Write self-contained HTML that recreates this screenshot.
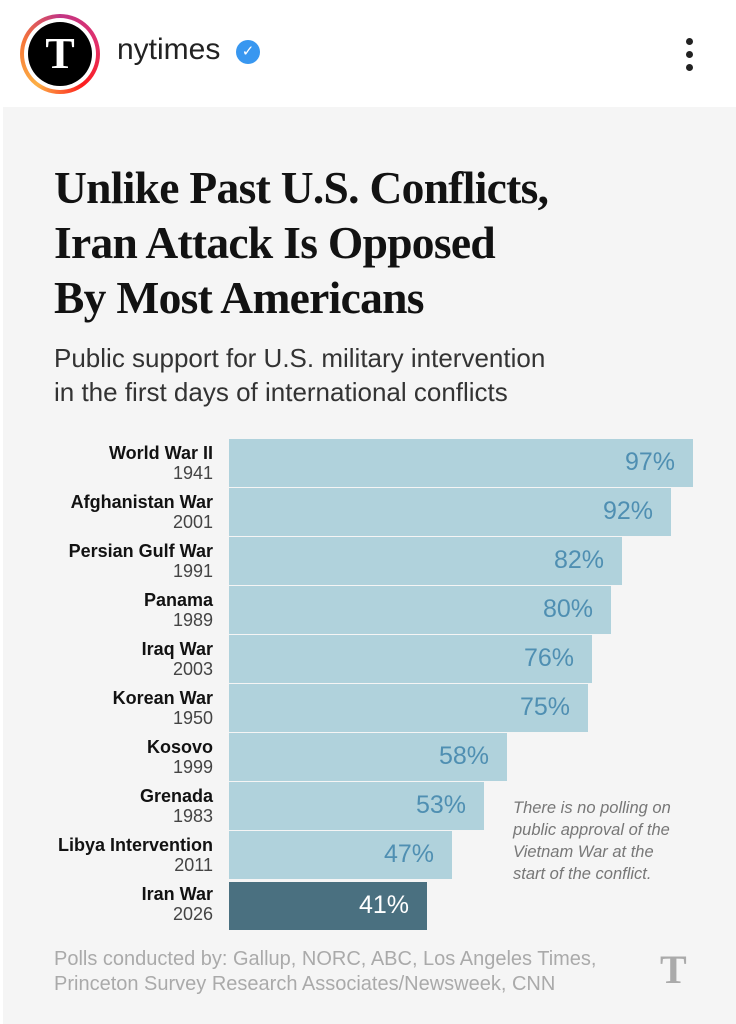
<!DOCTYPE html>
<html><head><meta charset="utf-8"><style>
body{margin:0;width:736px;height:1024px;background:#fff;position:relative;overflow:hidden;font-family:"Liberation Sans",sans-serif}
.abs{position:absolute}
.panel{left:3px;top:107px;width:733px;height:917px;background:#f5f5f5}
.title{left:54px;top:160px;font-family:"Liberation Serif",serif;font-weight:bold;font-size:45.5px;line-height:55px;color:#121212;letter-spacing:-0.7px}
.sub{left:54px;top:341px;font-size:26px;line-height:34px;color:#333}
.lab{right:523px;text-align:right;font-size:18px;line-height:20px;color:#121212}
.lab b{display:block;font-weight:bold}
.lab span{color:#444;font-size:18px}
.bar{left:229px;height:48px;background:#b0d2dc}
.bar i{position:absolute;right:18px;top:9px;font-style:normal;font-size:25px;color:#4f8fb2}
.note{left:513px;top:797px;font-size:16.5px;line-height:22px;color:#777;font-style:italic}
.foot{left:54px;top:947px;font-size:20px;line-height:25px;color:#aaa}
</style></head><body>
<div class="abs" style="left:20px;top:14px;width:80px;height:80px;border-radius:50%;background:conic-gradient(#c13584,#e1306c,#fd1d1d,#fcaf45,#f77737,#c13584)"></div>
<div class="abs" style="left:24px;top:18px;width:72px;height:72px;border-radius:50%;background:#fff"></div>
<div class="abs" style="left:28px;top:22px;width:64px;height:64px;border-radius:50%;background:#000;color:#fff;font-family:'Liberation Serif',serif;font-weight:bold;font-size:44px;line-height:64px;text-align:center">T</div>
<div class="abs" style="left:117px;top:33px;font-size:30px;color:#222">nytimes</div>
<div class="abs" style="left:236px;top:40px;width:24px;height:24px;border-radius:50%;background:#3897f0;color:#fff;font-size:15px;line-height:24px;text-align:center">✓</div>
<div class="abs" style="left:686px;top:38px;width:7px;height:7px;border-radius:50%;background:#222;box-shadow:0 13px 0 #222,0 26px 0 #222"></div>
<div class="abs panel"></div>
<div class="abs title">Unlike Past U.S. Conflicts,<br>Iran Attack Is Opposed<br>By Most Americans</div>
<div class="abs sub">Public support for U.S. military intervention<br>in the first days of international conflicts</div>

<div class="abs lab" style="top:443px"><b>World War II</b><span>1941</span></div>
<div class="abs bar" style="top:439px;width:464px"><i>97%</i></div>
<div class="abs lab" style="top:492px"><b>Afghanistan War</b><span>2001</span></div>
<div class="abs bar" style="top:488px;width:442px"><i>92%</i></div>
<div class="abs lab" style="top:541px"><b>Persian Gulf War</b><span>1991</span></div>
<div class="abs bar" style="top:537px;width:393px"><i>82%</i></div>
<div class="abs lab" style="top:590px"><b>Panama</b><span>1989</span></div>
<div class="abs bar" style="top:586px;width:382px"><i>80%</i></div>
<div class="abs lab" style="top:639px"><b>Iraq War</b><span>2003</span></div>
<div class="abs bar" style="top:635px;width:363px"><i>76%</i></div>
<div class="abs lab" style="top:688px"><b>Korean War</b><span>1950</span></div>
<div class="abs bar" style="top:684px;width:359px"><i>75%</i></div>
<div class="abs lab" style="top:737px"><b>Kosovo</b><span>1999</span></div>
<div class="abs bar" style="top:733px;width:278px"><i>58%</i></div>
<div class="abs lab" style="top:786px"><b>Grenada</b><span>1983</span></div>
<div class="abs bar" style="top:782px;width:255px"><i>53%</i></div>
<div class="abs lab" style="top:835px"><b>Libya Intervention</b><span>2011</span></div>
<div class="abs bar" style="top:831px;width:223px"><i>47%</i></div>
<div class="abs lab" style="top:884px"><b>Iran War</b><span>2026</span></div>
<div class="abs bar" style="top:882px;width:198px;background:#4a7080"><i style="color:#fff">41%</i></div>

<div class="abs note">There is no polling on<br>public approval of the<br>Vietnam War at the<br>start of the conflict.</div>
<div class="abs foot">Polls conducted by: Gallup, NORC, ABC, Los Angeles Times,<br>Princeton Survey Research Associates/Newsweek, CNN</div>
<div class="abs" style="left:660px;top:946px;font-family:'Liberation Serif',serif;font-weight:bold;font-size:40px;color:#aaa">T</div>
</body></html>
